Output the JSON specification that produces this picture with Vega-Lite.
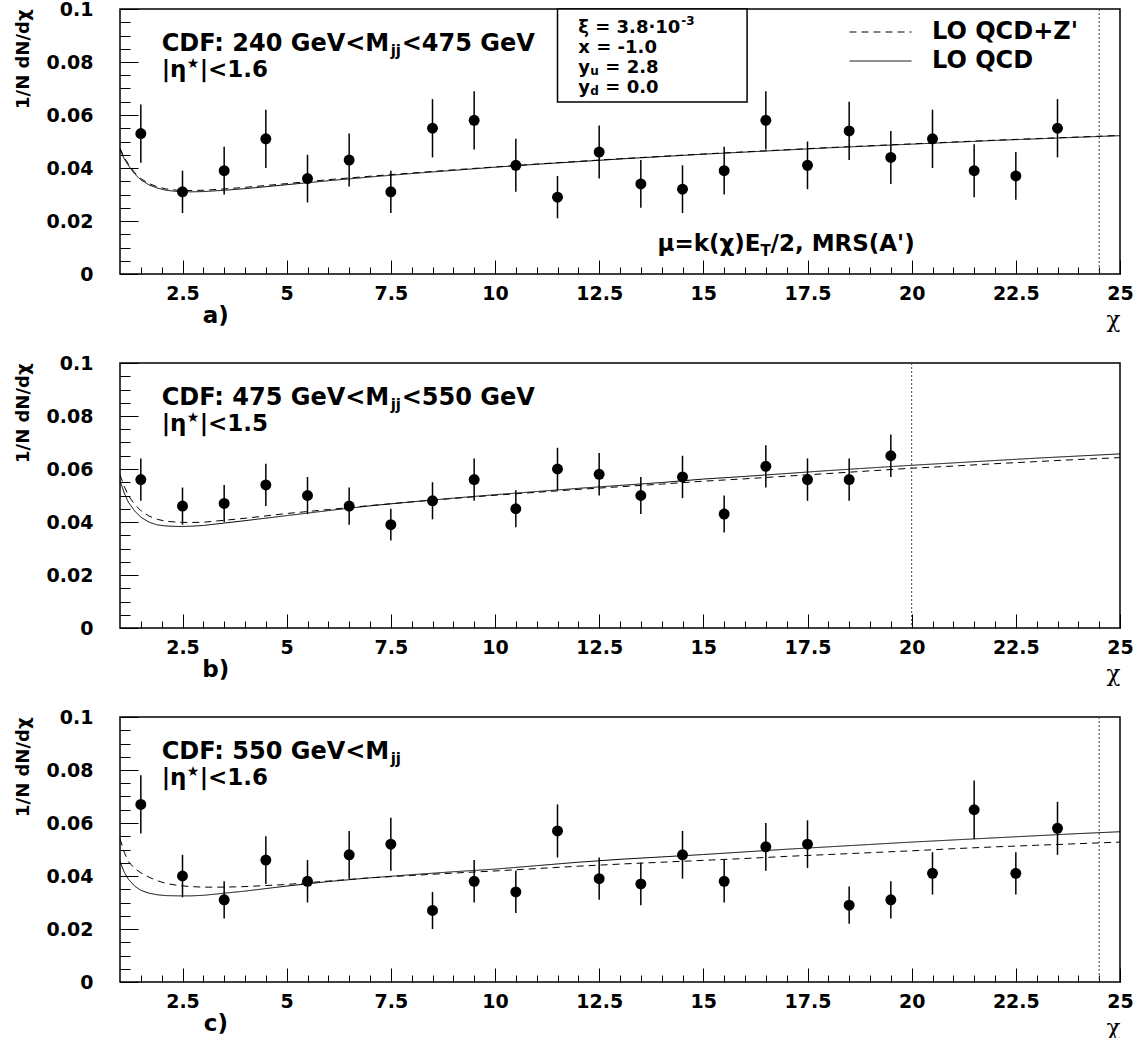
{
"$schema": "https://vega.github.io/schema/vega-lite/v6.json",
"background": "white",
"padding": {"left": 13, "top": -1, "right": 5, "bottom": 0},
"bounds": "flush",
"spacing": 89,
"config": {
  "view": {"stroke": "black", "strokeWidth": 1.5},
  "font": "DejaVu Sans",
  "axis": {"labelColor": "black", "tickColor": "black", "titleColor": "black", "grid": false, "domain": false},
  "text": {"font": "DejaVu Sans", "fontWeight": "bold", "color": "black"}
},
"resolve": {"scale": {"strokeDash": "independent"}, "legend": {"strokeDash": "independent"}},
"datasets": {
  "points": [
    {"panel":"a","x":1.5,"y":0.053,"ylo":0.042,"yhi":0.064},
    {"panel":"a","x":2.5,"y":0.031,"ylo":0.023,"yhi":0.039},
    {"panel":"a","x":3.5,"y":0.039,"ylo":0.030,"yhi":0.048},
    {"panel":"a","x":4.5,"y":0.051,"ylo":0.040,"yhi":0.062},
    {"panel":"a","x":5.5,"y":0.036,"ylo":0.027,"yhi":0.045},
    {"panel":"a","x":6.5,"y":0.043,"ylo":0.033,"yhi":0.053},
    {"panel":"a","x":7.5,"y":0.031,"ylo":0.023,"yhi":0.039},
    {"panel":"a","x":8.5,"y":0.055,"ylo":0.044,"yhi":0.066},
    {"panel":"a","x":9.5,"y":0.058,"ylo":0.047,"yhi":0.069},
    {"panel":"a","x":10.5,"y":0.041,"ylo":0.031,"yhi":0.051},
    {"panel":"a","x":11.5,"y":0.029,"ylo":0.021,"yhi":0.037},
    {"panel":"a","x":12.5,"y":0.046,"ylo":0.036,"yhi":0.056},
    {"panel":"a","x":13.5,"y":0.034,"ylo":0.025,"yhi":0.043},
    {"panel":"a","x":14.5,"y":0.032,"ylo":0.023,"yhi":0.041},
    {"panel":"a","x":15.5,"y":0.039,"ylo":0.030,"yhi":0.048},
    {"panel":"a","x":16.5,"y":0.058,"ylo":0.047,"yhi":0.069},
    {"panel":"a","x":17.5,"y":0.041,"ylo":0.032,"yhi":0.050},
    {"panel":"a","x":18.5,"y":0.054,"ylo":0.043,"yhi":0.065},
    {"panel":"a","x":19.5,"y":0.044,"ylo":0.034,"yhi":0.054},
    {"panel":"a","x":20.5,"y":0.051,"ylo":0.040,"yhi":0.062},
    {"panel":"a","x":21.5,"y":0.039,"ylo":0.029,"yhi":0.049},
    {"panel":"a","x":22.5,"y":0.037,"ylo":0.028,"yhi":0.046},
    {"panel":"a","x":23.5,"y":0.055,"ylo":0.044,"yhi":0.066},
    {"panel":"b","x":1.5,"y":0.056,"ylo":0.048,"yhi":0.064},
    {"panel":"b","x":2.5,"y":0.046,"ylo":0.039,"yhi":0.053},
    {"panel":"b","x":3.5,"y":0.047,"ylo":0.040,"yhi":0.054},
    {"panel":"b","x":4.5,"y":0.054,"ylo":0.046,"yhi":0.062},
    {"panel":"b","x":5.5,"y":0.050,"ylo":0.043,"yhi":0.057},
    {"panel":"b","x":6.5,"y":0.046,"ylo":0.039,"yhi":0.053},
    {"panel":"b","x":7.5,"y":0.039,"ylo":0.033,"yhi":0.045},
    {"panel":"b","x":8.5,"y":0.048,"ylo":0.041,"yhi":0.055},
    {"panel":"b","x":9.5,"y":0.056,"ylo":0.048,"yhi":0.064},
    {"panel":"b","x":10.5,"y":0.045,"ylo":0.038,"yhi":0.052},
    {"panel":"b","x":11.5,"y":0.060,"ylo":0.052,"yhi":0.068},
    {"panel":"b","x":12.5,"y":0.058,"ylo":0.050,"yhi":0.066},
    {"panel":"b","x":13.5,"y":0.050,"ylo":0.043,"yhi":0.057},
    {"panel":"b","x":14.5,"y":0.057,"ylo":0.049,"yhi":0.065},
    {"panel":"b","x":15.5,"y":0.043,"ylo":0.036,"yhi":0.050},
    {"panel":"b","x":16.5,"y":0.061,"ylo":0.053,"yhi":0.069},
    {"panel":"b","x":17.5,"y":0.056,"ylo":0.048,"yhi":0.064},
    {"panel":"b","x":18.5,"y":0.056,"ylo":0.048,"yhi":0.064},
    {"panel":"b","x":19.5,"y":0.065,"ylo":0.057,"yhi":0.073},
    {"panel":"c","x":1.5,"y":0.067,"ylo":0.056,"yhi":0.078},
    {"panel":"c","x":2.5,"y":0.040,"ylo":0.032,"yhi":0.048},
    {"panel":"c","x":3.5,"y":0.031,"ylo":0.024,"yhi":0.038},
    {"panel":"c","x":4.5,"y":0.046,"ylo":0.037,"yhi":0.055},
    {"panel":"c","x":5.5,"y":0.038,"ylo":0.030,"yhi":0.046},
    {"panel":"c","x":6.5,"y":0.048,"ylo":0.039,"yhi":0.057},
    {"panel":"c","x":7.5,"y":0.052,"ylo":0.042,"yhi":0.062},
    {"panel":"c","x":8.5,"y":0.027,"ylo":0.020,"yhi":0.034},
    {"panel":"c","x":9.5,"y":0.038,"ylo":0.030,"yhi":0.046},
    {"panel":"c","x":10.5,"y":0.034,"ylo":0.026,"yhi":0.042},
    {"panel":"c","x":11.5,"y":0.057,"ylo":0.047,"yhi":0.067},
    {"panel":"c","x":12.5,"y":0.039,"ylo":0.031,"yhi":0.047},
    {"panel":"c","x":13.5,"y":0.037,"ylo":0.029,"yhi":0.045},
    {"panel":"c","x":14.5,"y":0.048,"ylo":0.039,"yhi":0.057},
    {"panel":"c","x":15.5,"y":0.038,"ylo":0.030,"yhi":0.046},
    {"panel":"c","x":16.5,"y":0.051,"ylo":0.042,"yhi":0.060},
    {"panel":"c","x":17.5,"y":0.052,"ylo":0.043,"yhi":0.061},
    {"panel":"c","x":18.5,"y":0.029,"ylo":0.022,"yhi":0.036},
    {"panel":"c","x":19.5,"y":0.031,"ylo":0.024,"yhi":0.038},
    {"panel":"c","x":20.5,"y":0.041,"ylo":0.033,"yhi":0.049},
    {"panel":"c","x":21.5,"y":0.065,"ylo":0.054,"yhi":0.076},
    {"panel":"c","x":22.5,"y":0.041,"ylo":0.033,"yhi":0.049},
    {"panel":"c","x":23.5,"y":0.058,"ylo":0.048,"yhi":0.068}
  ],
  "curves": [
    {"panel":"a","model":"LO QCD","x":1,"y":0.047},{"panel":"a","model":"LO QCD","x":1.1,"y":0.0435},{"panel":"a","model":"LO QCD","x":1.2,"y":0.041},{"panel":"a","model":"LO QCD","x":1.35,"y":0.0378},{"panel":"a","model":"LO QCD","x":1.5,"y":0.0355},{"panel":"a","model":"LO QCD","x":1.7,"y":0.0336},{"panel":"a","model":"LO QCD","x":1.9,"y":0.0324},{"panel":"a","model":"LO QCD","x":2.1,"y":0.0316},{"panel":"a","model":"LO QCD","x":2.4,"y":0.0311},{"panel":"a","model":"LO QCD","x":2.7,"y":0.031},{"panel":"a","model":"LO QCD","x":3,"y":0.0311},{"panel":"a","model":"LO QCD","x":3.5,"y":0.0316},{"panel":"a","model":"LO QCD","x":4,"y":0.0322},{"panel":"a","model":"LO QCD","x":5,"y":0.0337},{"panel":"a","model":"LO QCD","x":6,"y":0.0352},{"panel":"a","model":"LO QCD","x":7,"y":0.0366},{"panel":"a","model":"LO QCD","x":8,"y":0.0379},{"panel":"a","model":"LO QCD","x":9,"y":0.0391},{"panel":"a","model":"LO QCD","x":10,"y":0.0403},{"panel":"a","model":"LO QCD","x":11,"y":0.0414},{"panel":"a","model":"LO QCD","x":12,"y":0.0424},{"panel":"a","model":"LO QCD","x":13,"y":0.0434},{"panel":"a","model":"LO QCD","x":14,"y":0.0443},{"panel":"a","model":"LO QCD","x":15,"y":0.0452},{"panel":"a","model":"LO QCD","x":16,"y":0.046},{"panel":"a","model":"LO QCD","x":17,"y":0.0468},{"panel":"a","model":"LO QCD","x":18,"y":0.0476},{"panel":"a","model":"LO QCD","x":19,"y":0.0483},{"panel":"a","model":"LO QCD","x":20,"y":0.049},{"panel":"a","model":"LO QCD","x":21,"y":0.0497},{"panel":"a","model":"LO QCD","x":22,"y":0.0504},{"panel":"a","model":"LO QCD","x":23,"y":0.051},{"panel":"a","model":"LO QCD","x":24,"y":0.0516},{"panel":"a","model":"LO QCD","x":25,"y":0.0522},
    {"panel":"a","model":"LO QCD+Z'","x":1,"y":0.0475},{"panel":"a","model":"LO QCD+Z'","x":1.1,"y":0.044},{"panel":"a","model":"LO QCD+Z'","x":1.2,"y":0.0415},{"panel":"a","model":"LO QCD+Z'","x":1.35,"y":0.0383},{"panel":"a","model":"LO QCD+Z'","x":1.5,"y":0.036},{"panel":"a","model":"LO QCD+Z'","x":1.7,"y":0.0341},{"panel":"a","model":"LO QCD+Z'","x":1.9,"y":0.0329},{"panel":"a","model":"LO QCD+Z'","x":2.1,"y":0.0321},{"panel":"a","model":"LO QCD+Z'","x":2.4,"y":0.0316},{"panel":"a","model":"LO QCD+Z'","x":2.7,"y":0.0315},{"panel":"a","model":"LO QCD+Z'","x":3,"y":0.0316},{"panel":"a","model":"LO QCD+Z'","x":3.5,"y":0.0321},{"panel":"a","model":"LO QCD+Z'","x":4,"y":0.0327},{"panel":"a","model":"LO QCD+Z'","x":5,"y":0.0341},{"panel":"a","model":"LO QCD+Z'","x":6,"y":0.0356},{"panel":"a","model":"LO QCD+Z'","x":7,"y":0.0369},{"panel":"a","model":"LO QCD+Z'","x":8,"y":0.0381},{"panel":"a","model":"LO QCD+Z'","x":9,"y":0.0393},{"panel":"a","model":"LO QCD+Z'","x":10,"y":0.0404},{"panel":"a","model":"LO QCD+Z'","x":11,"y":0.0415},{"panel":"a","model":"LO QCD+Z'","x":12,"y":0.0425},{"panel":"a","model":"LO QCD+Z'","x":13,"y":0.0435},{"panel":"a","model":"LO QCD+Z'","x":14,"y":0.0444},{"panel":"a","model":"LO QCD+Z'","x":15,"y":0.0453},{"panel":"a","model":"LO QCD+Z'","x":16,"y":0.0461},{"panel":"a","model":"LO QCD+Z'","x":17,"y":0.0469},{"panel":"a","model":"LO QCD+Z'","x":18,"y":0.0477},{"panel":"a","model":"LO QCD+Z'","x":19,"y":0.0484},{"panel":"a","model":"LO QCD+Z'","x":20,"y":0.0491},{"panel":"a","model":"LO QCD+Z'","x":21,"y":0.0498},{"panel":"a","model":"LO QCD+Z'","x":22,"y":0.0505},{"panel":"a","model":"LO QCD+Z'","x":23,"y":0.0511},{"panel":"a","model":"LO QCD+Z'","x":24,"y":0.0517},{"panel":"a","model":"LO QCD+Z'","x":25,"y":0.0523},
    {"panel":"b","model":"LO QCD","x":1,"y":0.0556},{"panel":"b","model":"LO QCD","x":1.1,"y":0.051},{"panel":"b","model":"LO QCD","x":1.2,"y":0.0475},{"panel":"b","model":"LO QCD","x":1.35,"y":0.0442},{"panel":"b","model":"LO QCD","x":1.5,"y":0.0418},{"panel":"b","model":"LO QCD","x":1.7,"y":0.0399},{"panel":"b","model":"LO QCD","x":1.9,"y":0.0389},{"panel":"b","model":"LO QCD","x":2.1,"y":0.0385},{"panel":"b","model":"LO QCD","x":2.4,"y":0.0383},{"panel":"b","model":"LO QCD","x":2.7,"y":0.0384},{"panel":"b","model":"LO QCD","x":3,"y":0.0387},{"panel":"b","model":"LO QCD","x":4,"y":0.0405},{"panel":"b","model":"LO QCD","x":5,"y":0.0424},{"panel":"b","model":"LO QCD","x":6,"y":0.0443},{"panel":"b","model":"LO QCD","x":7,"y":0.0461},{"panel":"b","model":"LO QCD","x":8,"y":0.0476},{"panel":"b","model":"LO QCD","x":9,"y":0.049},{"panel":"b","model":"LO QCD","x":10,"y":0.0503},{"panel":"b","model":"LO QCD","x":11,"y":0.0515},{"panel":"b","model":"LO QCD","x":12,"y":0.0527},{"panel":"b","model":"LO QCD","x":13,"y":0.0538},{"panel":"b","model":"LO QCD","x":14,"y":0.0549},{"panel":"b","model":"LO QCD","x":15,"y":0.0562},{"panel":"b","model":"LO QCD","x":16,"y":0.0572},{"panel":"b","model":"LO QCD","x":17,"y":0.0583},{"panel":"b","model":"LO QCD","x":18,"y":0.0594},{"panel":"b","model":"LO QCD","x":19,"y":0.0604},{"panel":"b","model":"LO QCD","x":20,"y":0.0614},{"panel":"b","model":"LO QCD","x":21,"y":0.0623},{"panel":"b","model":"LO QCD","x":22,"y":0.0632},{"panel":"b","model":"LO QCD","x":23,"y":0.0641},{"panel":"b","model":"LO QCD","x":24,"y":0.0649},{"panel":"b","model":"LO QCD","x":25,"y":0.0657},
    {"panel":"b","model":"LO QCD+Z'","x":1,"y":0.0578},{"panel":"b","model":"LO QCD+Z'","x":1.1,"y":0.0535},{"panel":"b","model":"LO QCD+Z'","x":1.2,"y":0.05},{"panel":"b","model":"LO QCD+Z'","x":1.35,"y":0.0467},{"panel":"b","model":"LO QCD+Z'","x":1.5,"y":0.0443},{"panel":"b","model":"LO QCD+Z'","x":1.7,"y":0.0422},{"panel":"b","model":"LO QCD+Z'","x":1.9,"y":0.041},{"panel":"b","model":"LO QCD+Z'","x":2.1,"y":0.0403},{"panel":"b","model":"LO QCD+Z'","x":2.4,"y":0.0399},{"panel":"b","model":"LO QCD+Z'","x":2.7,"y":0.0398},{"panel":"b","model":"LO QCD+Z'","x":3,"y":0.0399},{"panel":"b","model":"LO QCD+Z'","x":4,"y":0.0414},{"panel":"b","model":"LO QCD+Z'","x":5,"y":0.0432},{"panel":"b","model":"LO QCD+Z'","x":6,"y":0.0447},{"panel":"b","model":"LO QCD+Z'","x":7,"y":0.0462},{"panel":"b","model":"LO QCD+Z'","x":8,"y":0.0476},{"panel":"b","model":"LO QCD+Z'","x":9,"y":0.0489},{"panel":"b","model":"LO QCD+Z'","x":10,"y":0.0501},{"panel":"b","model":"LO QCD+Z'","x":11,"y":0.0512},{"panel":"b","model":"LO QCD+Z'","x":12,"y":0.0523},{"panel":"b","model":"LO QCD+Z'","x":13,"y":0.0533},{"panel":"b","model":"LO QCD+Z'","x":14,"y":0.0543},{"panel":"b","model":"LO QCD+Z'","x":15,"y":0.0554},{"panel":"b","model":"LO QCD+Z'","x":16,"y":0.0563},{"panel":"b","model":"LO QCD+Z'","x":17,"y":0.0573},{"panel":"b","model":"LO QCD+Z'","x":18,"y":0.0583},{"panel":"b","model":"LO QCD+Z'","x":19,"y":0.0593},{"panel":"b","model":"LO QCD+Z'","x":20,"y":0.0603},{"panel":"b","model":"LO QCD+Z'","x":21,"y":0.0611},{"panel":"b","model":"LO QCD+Z'","x":22,"y":0.062},{"panel":"b","model":"LO QCD+Z'","x":23,"y":0.0628},{"panel":"b","model":"LO QCD+Z'","x":24,"y":0.0636},{"panel":"b","model":"LO QCD+Z'","x":25,"y":0.0643},
    {"panel":"c","model":"LO QCD","x":1,"y":0.0455},{"panel":"c","model":"LO QCD","x":1.1,"y":0.0415},{"panel":"c","model":"LO QCD","x":1.2,"y":0.0388},{"panel":"c","model":"LO QCD","x":1.35,"y":0.0362},{"panel":"c","model":"LO QCD","x":1.5,"y":0.0346},{"panel":"c","model":"LO QCD","x":1.7,"y":0.0335},{"panel":"c","model":"LO QCD","x":1.9,"y":0.0329},{"panel":"c","model":"LO QCD","x":2.1,"y":0.0326},{"panel":"c","model":"LO QCD","x":2.4,"y":0.0325},{"panel":"c","model":"LO QCD","x":2.7,"y":0.0325},{"panel":"c","model":"LO QCD","x":3,"y":0.0327},{"panel":"c","model":"LO QCD","x":4,"y":0.0343},{"panel":"c","model":"LO QCD","x":5,"y":0.0362},{"panel":"c","model":"LO QCD","x":6,"y":0.0379},{"panel":"c","model":"LO QCD","x":7,"y":0.0393},{"panel":"c","model":"LO QCD","x":8,"y":0.0405},{"panel":"c","model":"LO QCD","x":9,"y":0.0416},{"panel":"c","model":"LO QCD","x":10,"y":0.0426},{"panel":"c","model":"LO QCD","x":11,"y":0.0439},{"panel":"c","model":"LO QCD","x":12,"y":0.0452},{"panel":"c","model":"LO QCD","x":13,"y":0.0463},{"panel":"c","model":"LO QCD","x":14,"y":0.0472},{"panel":"c","model":"LO QCD","x":15,"y":0.0481},{"panel":"c","model":"LO QCD","x":16,"y":0.0491},{"panel":"c","model":"LO QCD","x":17,"y":0.0501},{"panel":"c","model":"LO QCD","x":18,"y":0.051},{"panel":"c","model":"LO QCD","x":19,"y":0.0519},{"panel":"c","model":"LO QCD","x":20,"y":0.0528},{"panel":"c","model":"LO QCD","x":21,"y":0.0536},{"panel":"c","model":"LO QCD","x":22,"y":0.0544},{"panel":"c","model":"LO QCD","x":23,"y":0.0552},{"panel":"c","model":"LO QCD","x":24,"y":0.056},{"panel":"c","model":"LO QCD","x":25,"y":0.0567},
    {"panel":"c","model":"LO QCD+Z'","x":1,"y":0.054},{"panel":"c","model":"LO QCD+Z'","x":1.1,"y":0.049},{"panel":"c","model":"LO QCD+Z'","x":1.2,"y":0.0455},{"panel":"c","model":"LO QCD+Z'","x":1.35,"y":0.0428},{"panel":"c","model":"LO QCD+Z'","x":1.5,"y":0.0412},{"panel":"c","model":"LO QCD+Z'","x":1.7,"y":0.0395},{"panel":"c","model":"LO QCD+Z'","x":1.9,"y":0.0382},{"panel":"c","model":"LO QCD+Z'","x":2.1,"y":0.0372},{"panel":"c","model":"LO QCD+Z'","x":2.4,"y":0.0364},{"panel":"c","model":"LO QCD+Z'","x":2.7,"y":0.036},{"panel":"c","model":"LO QCD+Z'","x":3,"y":0.0358},{"panel":"c","model":"LO QCD+Z'","x":3.5,"y":0.0358},{"panel":"c","model":"LO QCD+Z'","x":4,"y":0.036},{"panel":"c","model":"LO QCD+Z'","x":5,"y":0.0368},{"panel":"c","model":"LO QCD+Z'","x":6,"y":0.0381},{"panel":"c","model":"LO QCD+Z'","x":7,"y":0.0393},{"panel":"c","model":"LO QCD+Z'","x":8,"y":0.0402},{"panel":"c","model":"LO QCD+Z'","x":9,"y":0.0411},{"panel":"c","model":"LO QCD+Z'","x":10,"y":0.0419},{"panel":"c","model":"LO QCD+Z'","x":11,"y":0.0428},{"panel":"c","model":"LO QCD+Z'","x":12,"y":0.0437},{"panel":"c","model":"LO QCD+Z'","x":13,"y":0.0445},{"panel":"c","model":"LO QCD+Z'","x":14,"y":0.0452},{"panel":"c","model":"LO QCD+Z'","x":15,"y":0.0459},{"panel":"c","model":"LO QCD+Z'","x":16,"y":0.0466},{"panel":"c","model":"LO QCD+Z'","x":17,"y":0.0474},{"panel":"c","model":"LO QCD+Z'","x":18,"y":0.0481},{"panel":"c","model":"LO QCD+Z'","x":19,"y":0.0488},{"panel":"c","model":"LO QCD+Z'","x":20,"y":0.0495},{"panel":"c","model":"LO QCD+Z'","x":21,"y":0.0503},{"panel":"c","model":"LO QCD+Z'","x":22,"y":0.051},{"panel":"c","model":"LO QCD+Z'","x":23,"y":0.0516},{"panel":"c","model":"LO QCD+Z'","x":24,"y":0.0522},{"panel":"c","model":"LO QCD+Z'","x":25,"y":0.0528}
  ]
},
"vconcat": [
{
  "width": 1000, "height": 265,
  "resolve": {"axis": {"x": "independent", "y": "independent"}},
  "layer": [
    {"data": {"name": "points"}, "transform": [{"filter": "datum.panel === 'a'"}],
     "mark": {"type": "rule", "color": "black", "strokeWidth": 1.5},
     "encoding": {
       "x": {"field": "x", "type": "quantitative", "scale": {"domain": [1, 25], "nice": false, "zero": false},
             "axis": {"orient": "bottom", "values": [2.5,5,7.5,10,12.5,15,17.5,20,22.5,25], "format": ".3~g", "ticks": false, "labelPadding": 10, "labelFlush": false, "labelOverlap": false, "labelFont": "DejaVu Sans", "labelFontWeight": "bold", "labelFontSize": 19, "title": "χ", "titleFont": "DejaVu Serif", "titleFontWeight": "normal", "titleFontSize": 23, "titleAnchor": "end", "titlePadding": 5}},
       "y": {"field": "ylo", "type": "quantitative", "scale": {"domain": [0, 0.1], "nice": false},
             "axis": {"orient": "left", "values": [0,0.02,0.04,0.06,0.08,0.1], "format": ".3~g", "ticks": false, "labelPadding": 27, "labelFont": "DejaVu Sans", "labelFontWeight": "bold", "labelFontSize": 19, "title": "1/N dN/dχ", "titleFont": "DejaVu Sans", "titleFontWeight": "bold", "titleFontSize": 18, "titleAnchor": "end", "titlePadding": 14}},
       "y2": {"field": "yhi"}
     }},
    {"data": {"name": "points"}, "transform": [{"filter": "datum.panel === 'a'"}],
     "mark": {"type": "point", "shape": "circle", "filled": true, "color": "black", "opacity": 1, "size": 120, "strokeWidth": 0},
     "encoding": {
       "x": {"field": "x", "type": "quantitative", "axis": {"orient": "bottom", "values": [2.5,5,7.5,10,12.5,15,17.5,20,22.5,25], "labels": false, "ticks": true, "tickSize": -14, "tickWidth": 1, "title": null}},
       "y": {"field": "y", "type": "quantitative", "axis": {"orient": "left", "values": [0,0.02,0.04,0.06,0.08,0.1], "labels": false, "ticks": true, "tickSize": -18, "tickWidth": 1, "title": null}}
     }},
    {"data": {"name": "curves"}, "transform": [{"filter": "datum.panel === 'a'"}],
     "mark": {"type": "line", "color": "black", "strokeWidth": 1},
     "encoding": {
       "x": {"field": "x", "type": "quantitative", "axis": {"orient": "bottom", "values": [1.5,2,3,3.5,4,4.5,5.5,6,6.5,7,8,8.5,9,9.5,10.5,11,11.5,12,13,13.5,14,14.5,15.5,16,16.5,17,18,18.5,19,19.5,20.5,21,21.5,22,23,23.5,24,24.5], "labels": false, "ticks": true, "tickSize": -7, "tickWidth": 1, "title": null}},
       "y": {"field": "y", "type": "quantitative", "axis": {"orient": "left", "values": [0.005,0.01,0.015,0.025,0.03,0.035,0.045,0.05,0.055,0.065,0.07,0.075,0.085,0.09,0.095], "labels": false, "ticks": true, "tickSize": -10, "tickWidth": 1, "title": null}},
       "strokeDash": {"field": "model", "type": "nominal", "scale": {"domain": ["LO QCD+Z'", "LO QCD"], "range": [[7,5],[1,0]]},
         "legend": {"orient": "none", "legendX": 729, "legendY": 11, "title": null, "symbolType": "stroke", "symbolSize": 3844, "symbolStrokeWidth": 1, "symbolStrokeColor": "black", "clipHeight": 24, "rowPadding": 5, "labelOffset": 20, "labelFont": "DejaVu Sans", "labelFontWeight": "bold", "labelFontSize": 24, "labelColor": "black", "padding": 0}}
     }},
    {"data": {"values": [{}]}, "mark": {"type": "rule", "color": "#444", "strokeWidth": 1, "strokeDash": [2,2]},
     "encoding": {"x": {"datum": 24.5, "axis": null}}},
    {"data": {"values": [{}]}, "mark": {"type": "rect", "fill": "white", "stroke": "black", "strokeWidth": 1.5},
     "encoding": {"x": {"datum": 11.5, "axis": null}, "x2": {"datum": 16.05}, "y": {"datum": 0.1, "axis": null}, "y2": {"datum": 0.0649}}},
    {"data": {"values": [{}]}, "mark": {"type": "text", "text": "CDF: 240 GeV<M", "align": "left", "baseline": "alphabetic", "fontSize": 24},
     "encoding": {"x": {"datum": 2.0, "axis": null}, "y": {"datum": 0.0842, "axis": null}}},
    {"data": {"values": [{}]}, "mark": {"type": "text", "text": "jj", "align": "left", "baseline": "alphabetic", "fontSize": 15, "dx": 229, "dy": 5},
     "encoding": {"x": {"datum": 2.0, "axis": null}, "y": {"datum": 0.0842, "axis": null}}},
    {"data": {"values": [{}]}, "mark": {"type": "text", "text": "<475 GeV", "align": "left", "baseline": "alphabetic", "fontSize": 24, "dx": 240},
     "encoding": {"x": {"datum": 2.0, "axis": null}, "y": {"datum": 0.0842, "axis": null}}},
    {"data": {"values": [{}]}, "mark": {"type": "text", "text": "|η", "align": "left", "baseline": "alphabetic", "fontSize": 23},
     "encoding": {"x": {"datum": 2.0, "axis": null}, "y": {"datum": 0.0743, "axis": null}}},
    {"data": {"values": [{}]}, "mark": {"type": "text", "text": "★", "align": "left", "baseline": "alphabetic", "fontSize": 14, "fontWeight": "normal", "dx": 25, "dy": -9},
     "encoding": {"x": {"datum": 2.0, "axis": null}, "y": {"datum": 0.0743, "axis": null}}},
    {"data": {"values": [{}]}, "mark": {"type": "text", "text": "|<1.6", "align": "left", "baseline": "alphabetic", "fontSize": 23, "dx": 38},
     "encoding": {"x": {"datum": 2.0, "axis": null}, "y": {"datum": 0.0743, "axis": null}}},
    {"data": {"values": [{}]}, "mark": {"type": "text", "text": "μ=k(χ)E", "align": "left", "baseline": "alphabetic", "fontSize": 23},
     "encoding": {"x": {"datum": 13.9, "axis": null}, "y": {"datum": 0.0087, "axis": null}}},
    {"data": {"values": [{}]}, "mark": {"type": "text", "text": "T", "align": "left", "baseline": "alphabetic", "fontSize": 15, "dx": 103, "dy": 5},
     "encoding": {"x": {"datum": 13.9, "axis": null}, "y": {"datum": 0.0087, "axis": null}}},
    {"data": {"values": [{}]}, "mark": {"type": "text", "text": "/2, MRS(A')", "align": "left", "baseline": "alphabetic", "fontSize": 23, "dx": 113},
     "encoding": {"x": {"datum": 13.9, "axis": null}, "y": {"datum": 0.0087, "axis": null}}},
    {"data": {"values": [{}]}, "mark": {"type": "text", "text": "ξ = 3.8·10", "align": "left", "baseline": "alphabetic", "fontSize": 18},
     "encoding": {"x": {"datum": 12.0, "axis": null}, "y": {"datum": 0.0909, "axis": null}}},
    {"data": {"values": [{}]}, "mark": {"type": "text", "text": "-3", "align": "left", "baseline": "alphabetic", "fontSize": 12, "dx": 103, "dy": -8},
     "encoding": {"x": {"datum": 12.0, "axis": null}, "y": {"datum": 0.0909, "axis": null}}},
    {"data": {"values": [{}]}, "mark": {"type": "text", "text": "x = -1.0", "align": "left", "baseline": "alphabetic", "fontSize": 18},
     "encoding": {"x": {"datum": 12.0, "axis": null}, "y": {"datum": 0.0834, "axis": null}}},
    {"data": {"values": [{}]}, "mark": {"type": "text", "text": "y", "align": "left", "baseline": "alphabetic", "fontSize": 18},
     "encoding": {"x": {"datum": 12.0, "axis": null}, "y": {"datum": 0.0759, "axis": null}}},
    {"data": {"values": [{}]}, "mark": {"type": "text", "text": "u", "align": "left", "baseline": "alphabetic", "fontSize": 12, "dx": 12, "dy": 2},
     "encoding": {"x": {"datum": 12.0, "axis": null}, "y": {"datum": 0.0759, "axis": null}}},
    {"data": {"values": [{}]}, "mark": {"type": "text", "text": "= 2.8", "align": "left", "baseline": "alphabetic", "fontSize": 18, "dx": 27},
     "encoding": {"x": {"datum": 12.0, "axis": null}, "y": {"datum": 0.0759, "axis": null}}},
    {"data": {"values": [{}]}, "mark": {"type": "text", "text": "y", "align": "left", "baseline": "alphabetic", "fontSize": 18},
     "encoding": {"x": {"datum": 12.0, "axis": null}, "y": {"datum": 0.0684, "axis": null}}},
    {"data": {"values": [{}]}, "mark": {"type": "text", "text": "d", "align": "left", "baseline": "alphabetic", "fontSize": 12, "dx": 12, "dy": 2},
     "encoding": {"x": {"datum": 12.0, "axis": null}, "y": {"datum": 0.0684, "axis": null}}},
    {"data": {"values": [{}]}, "mark": {"type": "text", "text": "= 0.0", "align": "left", "baseline": "alphabetic", "fontSize": 18, "dx": 27},
     "encoding": {"x": {"datum": 12.0, "axis": null}, "y": {"datum": 0.0684, "axis": null}}},
    {"data": {"values": [{}]}, "mark": {"type": "text", "text": "a)", "align": "center", "baseline": "alphabetic", "fontSize": 23},
     "encoding": {"x": {"datum": 3.3, "axis": null}, "y": {"datum": -0.0185, "axis": null}}}
  ]
},
{
  "width": 1000, "height": 265,
  "resolve": {"axis": {"x": "independent", "y": "independent"}},
  "layer": [
    {"data": {"name": "points"}, "transform": [{"filter": "datum.panel === 'b'"}],
     "mark": {"type": "rule", "color": "black", "strokeWidth": 1.5},
     "encoding": {
       "x": {"field": "x", "type": "quantitative", "scale": {"domain": [1, 25], "nice": false, "zero": false},
             "axis": {"orient": "bottom", "values": [2.5,5,7.5,10,12.5,15,17.5,20,22.5,25], "format": ".3~g", "ticks": false, "labelPadding": 10, "labelFlush": false, "labelOverlap": false, "labelFont": "DejaVu Sans", "labelFontWeight": "bold", "labelFontSize": 19, "title": "χ", "titleFont": "DejaVu Serif", "titleFontWeight": "normal", "titleFontSize": 23, "titleAnchor": "end", "titlePadding": 5}},
       "y": {"field": "ylo", "type": "quantitative", "scale": {"domain": [0, 0.1], "nice": false},
             "axis": {"orient": "left", "values": [0,0.02,0.04,0.06,0.08,0.1], "format": ".3~g", "ticks": false, "labelPadding": 27, "labelFont": "DejaVu Sans", "labelFontWeight": "bold", "labelFontSize": 19, "title": "1/N dN/dχ", "titleFont": "DejaVu Sans", "titleFontWeight": "bold", "titleFontSize": 18, "titleAnchor": "end", "titlePadding": 14}},
       "y2": {"field": "yhi"}
     }},
    {"data": {"name": "points"}, "transform": [{"filter": "datum.panel === 'b'"}],
     "mark": {"type": "point", "shape": "circle", "filled": true, "color": "black", "opacity": 1, "size": 120, "strokeWidth": 0},
     "encoding": {
       "x": {"field": "x", "type": "quantitative", "axis": {"orient": "bottom", "values": [2.5,5,7.5,10,12.5,15,17.5,20,22.5,25], "labels": false, "ticks": true, "tickSize": -14, "tickWidth": 1, "title": null}},
       "y": {"field": "y", "type": "quantitative", "axis": {"orient": "left", "values": [0,0.02,0.04,0.06,0.08,0.1], "labels": false, "ticks": true, "tickSize": -18, "tickWidth": 1, "title": null}}
     }},
    {"data": {"name": "curves"}, "transform": [{"filter": "datum.panel === 'b'"}],
     "mark": {"type": "line", "color": "black", "strokeWidth": 1},
     "encoding": {
       "x": {"field": "x", "type": "quantitative", "axis": {"orient": "bottom", "values": [1.5,2,3,3.5,4,4.5,5.5,6,6.5,7,8,8.5,9,9.5,10.5,11,11.5,12,13,13.5,14,14.5,15.5,16,16.5,17,18,18.5,19,19.5,20.5,21,21.5,22,23,23.5,24,24.5], "labels": false, "ticks": true, "tickSize": -7, "tickWidth": 1, "title": null}},
       "y": {"field": "y", "type": "quantitative", "axis": {"orient": "left", "values": [0.005,0.01,0.015,0.025,0.03,0.035,0.045,0.05,0.055,0.065,0.07,0.075,0.085,0.09,0.095], "labels": false, "ticks": true, "tickSize": -10, "tickWidth": 1, "title": null}},
       "strokeDash": {"field": "model", "type": "nominal", "scale": {"domain": ["LO QCD+Z'", "LO QCD"], "range": [[7,5],[1,0]]}, "legend": null}
     }},
    {"data": {"values": [{}]}, "mark": {"type": "rule", "color": "#444", "strokeWidth": 1, "strokeDash": [2,2]},
     "encoding": {"x": {"datum": 20, "axis": null}}},
    {"data": {"values": [{}]}, "mark": {"type": "text", "text": "CDF: 475 GeV<M", "align": "left", "baseline": "alphabetic", "fontSize": 24},
     "encoding": {"x": {"datum": 2.0, "axis": null}, "y": {"datum": 0.0842, "axis": null}}},
    {"data": {"values": [{}]}, "mark": {"type": "text", "text": "jj", "align": "left", "baseline": "alphabetic", "fontSize": 15, "dx": 229, "dy": 5},
     "encoding": {"x": {"datum": 2.0, "axis": null}, "y": {"datum": 0.0842, "axis": null}}},
    {"data": {"values": [{}]}, "mark": {"type": "text", "text": "<550 GeV", "align": "left", "baseline": "alphabetic", "fontSize": 24, "dx": 240},
     "encoding": {"x": {"datum": 2.0, "axis": null}, "y": {"datum": 0.0842, "axis": null}}},
    {"data": {"values": [{}]}, "mark": {"type": "text", "text": "|η", "align": "left", "baseline": "alphabetic", "fontSize": 23},
     "encoding": {"x": {"datum": 2.0, "axis": null}, "y": {"datum": 0.0743, "axis": null}}},
    {"data": {"values": [{}]}, "mark": {"type": "text", "text": "★", "align": "left", "baseline": "alphabetic", "fontSize": 14, "fontWeight": "normal", "dx": 25, "dy": -9},
     "encoding": {"x": {"datum": 2.0, "axis": null}, "y": {"datum": 0.0743, "axis": null}}},
    {"data": {"values": [{}]}, "mark": {"type": "text", "text": "|<1.5", "align": "left", "baseline": "alphabetic", "fontSize": 23, "dx": 38},
     "encoding": {"x": {"datum": 2.0, "axis": null}, "y": {"datum": 0.0743, "axis": null}}},
    {"data": {"values": [{}]}, "mark": {"type": "text", "text": "b)", "align": "center", "baseline": "alphabetic", "fontSize": 23},
     "encoding": {"x": {"datum": 3.3, "axis": null}, "y": {"datum": -0.0185, "axis": null}}}
  ]
},
{
  "width": 1000, "height": 265,
  "resolve": {"axis": {"x": "independent", "y": "independent"}},
  "layer": [
    {"data": {"name": "points"}, "transform": [{"filter": "datum.panel === 'c'"}],
     "mark": {"type": "rule", "color": "black", "strokeWidth": 1.5},
     "encoding": {
       "x": {"field": "x", "type": "quantitative", "scale": {"domain": [1, 25], "nice": false, "zero": false},
             "axis": {"orient": "bottom", "values": [2.5,5,7.5,10,12.5,15,17.5,20,22.5,25], "format": ".3~g", "ticks": false, "labelPadding": 10, "labelFlush": false, "labelOverlap": false, "labelFont": "DejaVu Sans", "labelFontWeight": "bold", "labelFontSize": 19, "title": "χ", "titleFont": "DejaVu Serif", "titleFontWeight": "normal", "titleFontSize": 23, "titleAnchor": "end", "titlePadding": 5}},
       "y": {"field": "ylo", "type": "quantitative", "scale": {"domain": [0, 0.1], "nice": false},
             "axis": {"orient": "left", "values": [0,0.02,0.04,0.06,0.08,0.1], "format": ".3~g", "ticks": false, "labelPadding": 27, "labelFont": "DejaVu Sans", "labelFontWeight": "bold", "labelFontSize": 19, "title": "1/N dN/dχ", "titleFont": "DejaVu Sans", "titleFontWeight": "bold", "titleFontSize": 18, "titleAnchor": "end", "titlePadding": 14}},
       "y2": {"field": "yhi"}
     }},
    {"data": {"name": "points"}, "transform": [{"filter": "datum.panel === 'c'"}],
     "mark": {"type": "point", "shape": "circle", "filled": true, "color": "black", "opacity": 1, "size": 120, "strokeWidth": 0},
     "encoding": {
       "x": {"field": "x", "type": "quantitative", "axis": {"orient": "bottom", "values": [2.5,5,7.5,10,12.5,15,17.5,20,22.5,25], "labels": false, "ticks": true, "tickSize": -14, "tickWidth": 1, "title": null}},
       "y": {"field": "y", "type": "quantitative", "axis": {"orient": "left", "values": [0,0.02,0.04,0.06,0.08,0.1], "labels": false, "ticks": true, "tickSize": -18, "tickWidth": 1, "title": null}}
     }},
    {"data": {"name": "curves"}, "transform": [{"filter": "datum.panel === 'c'"}],
     "mark": {"type": "line", "color": "black", "strokeWidth": 1},
     "encoding": {
       "x": {"field": "x", "type": "quantitative", "axis": {"orient": "bottom", "values": [1.5,2,3,3.5,4,4.5,5.5,6,6.5,7,8,8.5,9,9.5,10.5,11,11.5,12,13,13.5,14,14.5,15.5,16,16.5,17,18,18.5,19,19.5,20.5,21,21.5,22,23,23.5,24,24.5], "labels": false, "ticks": true, "tickSize": -7, "tickWidth": 1, "title": null}},
       "y": {"field": "y", "type": "quantitative", "axis": {"orient": "left", "values": [0.005,0.01,0.015,0.025,0.03,0.035,0.045,0.05,0.055,0.065,0.07,0.075,0.085,0.09,0.095], "labels": false, "ticks": true, "tickSize": -10, "tickWidth": 1, "title": null}},
       "strokeDash": {"field": "model", "type": "nominal", "scale": {"domain": ["LO QCD+Z'", "LO QCD"], "range": [[7,5],[1,0]]}, "legend": null}
     }},
    {"data": {"values": [{}]}, "mark": {"type": "rule", "color": "#444", "strokeWidth": 1, "strokeDash": [2,2]},
     "encoding": {"x": {"datum": 24.5, "axis": null}}},
    {"data": {"values": [{}]}, "mark": {"type": "text", "text": "CDF: 550 GeV<M", "align": "left", "baseline": "alphabetic", "fontSize": 24},
     "encoding": {"x": {"datum": 2.0, "axis": null}, "y": {"datum": 0.0842, "axis": null}}},
    {"data": {"values": [{}]}, "mark": {"type": "text", "text": "jj", "align": "left", "baseline": "alphabetic", "fontSize": 15, "dx": 229, "dy": 5},
     "encoding": {"x": {"datum": 2.0, "axis": null}, "y": {"datum": 0.0842, "axis": null}}},
    {"data": {"values": [{}]}, "mark": {"type": "text", "text": "|η", "align": "left", "baseline": "alphabetic", "fontSize": 23},
     "encoding": {"x": {"datum": 2.0, "axis": null}, "y": {"datum": 0.0743, "axis": null}}},
    {"data": {"values": [{}]}, "mark": {"type": "text", "text": "★", "align": "left", "baseline": "alphabetic", "fontSize": 14, "fontWeight": "normal", "dx": 25, "dy": -9},
     "encoding": {"x": {"datum": 2.0, "axis": null}, "y": {"datum": 0.0743, "axis": null}}},
    {"data": {"values": [{}]}, "mark": {"type": "text", "text": "|<1.6", "align": "left", "baseline": "alphabetic", "fontSize": 23, "dx": 38},
     "encoding": {"x": {"datum": 2.0, "axis": null}, "y": {"datum": 0.0743, "axis": null}}},
    {"data": {"values": [{}]}, "mark": {"type": "text", "text": "c)", "align": "center", "baseline": "alphabetic", "fontSize": 23},
     "encoding": {"x": {"datum": 3.3, "axis": null}, "y": {"datum": -0.0185, "axis": null}}}
  ]
}
]
}
